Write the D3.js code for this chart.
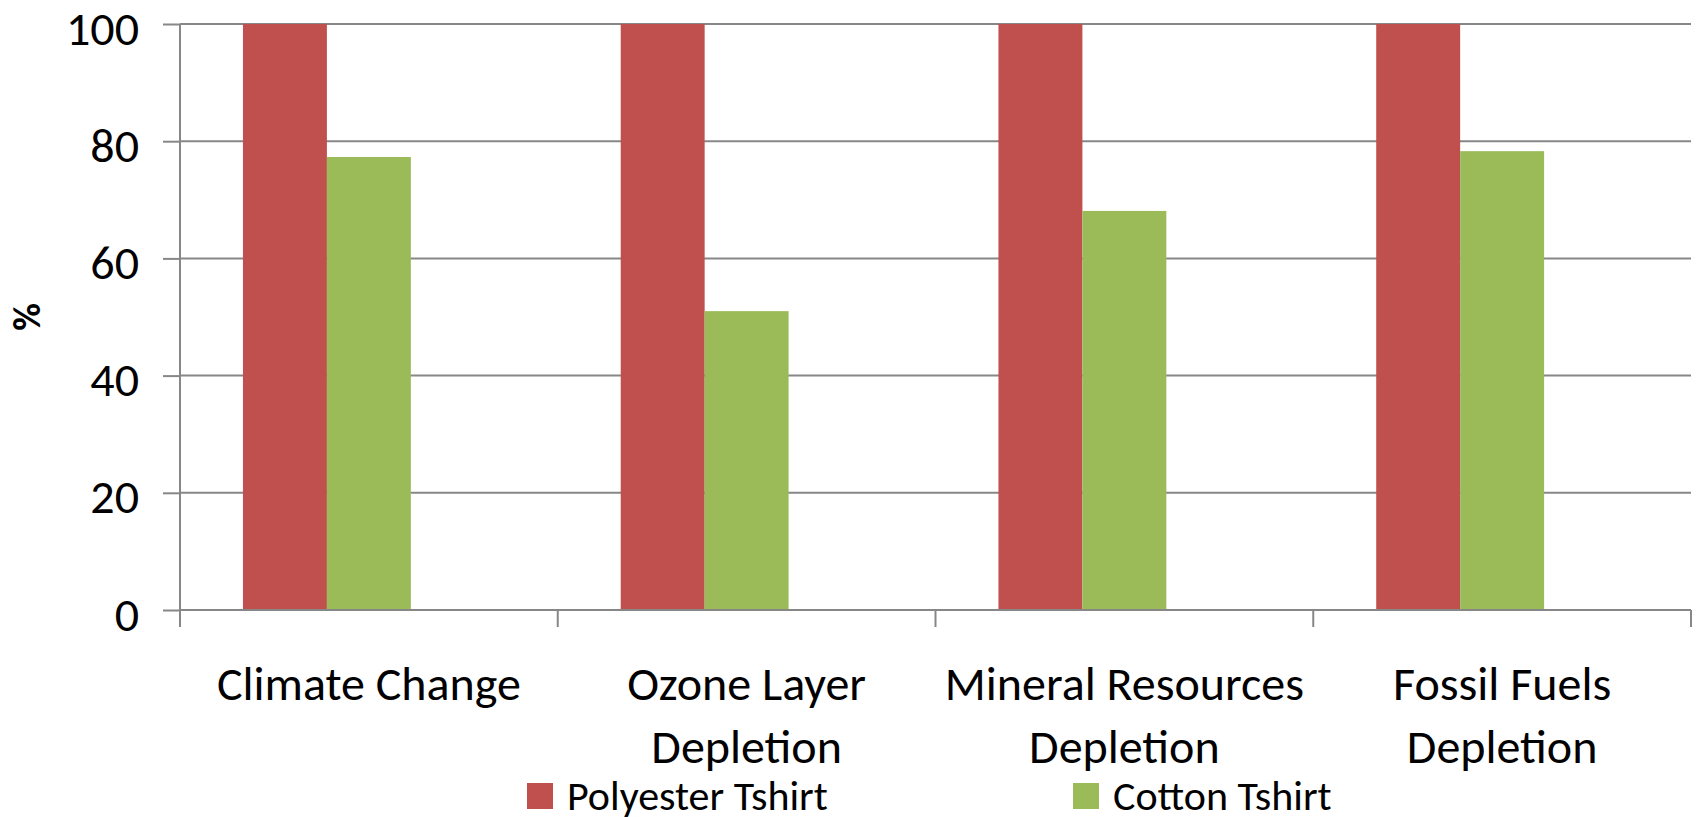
<!DOCTYPE html>
<html>
<head>
<meta charset="utf-8">
<script src="https://cdn.jsdelivr.net/npm/d3@7"></script>
<style>
  html, body { margin: 0; padding: 0; background: #fff; }
  svg { display: block; font-family: Carlito, Lato, "Open Sans", sans-serif; }
</style>
</head>
<body>
<div id="chart"></div>
<script>
// Impact categories (each label split into its lines)
const categories = ["Climate Change", "Ozone Layer Depletion", "Mineral Resources Depletion", "Fossil Fuels Depletion"];
const categoryLines = [
    ["Climate Change"],
    ["Ozone Layer", "Depletion"],
    ["Mineral Resources", "Depletion"],
    ["Fossil Fuels", "Depletion"]
];

// Series, relative to the polyester shirt (= 100 %)
const seriesNames = ["Polyester Tshirt", "Cotton Tshirt"];
const polyesterValues = [100, 100, 100, 100];
const cottonValues = [77.3, 51.0, 68.1, 78.3];
const seriesColors = ["#C0504D", "#9BBB59"];

const yTicks = [0, 20, 40, 60, 80, 100];

const width = 1698, height = 817;
const margin = { top: 24, right: 7, bottom: 207, left: 180 };

const svg = d3.select("#chart").append("svg")
    .attr("width", width)
    .attr("height", height);

const x0 = d3.scaleBand()
    .domain(categories)
    .range([margin.left, width - margin.right])
    .padding(0);

// the original Excel chart reserves a third (empty) slot per cluster
const x1 = d3.scaleBand()
    .domain(d3.range(seriesNames.length + 1))
    .range([0, x0.bandwidth()])
    .paddingInner(0)
    .paddingOuter(0.75);

const y = d3.scaleLinear()
    .domain([0, 100])
    .range([height - margin.bottom, margin.top]);

// Gridlines + y ticks
const yAxis = svg.append("g")
    .attr("transform", `translate(${margin.left},0)`)
    .call(d3.axisLeft(y).tickValues(yTicks).tickSize(17).tickPadding(0).tickFormat(d3.format("d")))
    .attr("font-family", null)
    .attr("font-size", null);
yAxis.select(".domain").remove();
yAxis.selectAll(".tick line").attr("stroke", "#878787").attr("stroke-width", 2);
yAxis.selectAll(".tick text")
    .attr("x", -41)
    .attr("dy", "0.42em")
    .attr("font-size", 48)
    .attr("fill", "#000");

svg.append("g")
    .selectAll("line")
    .data(yTicks.filter(d => d > 0))
    .join("line")
    .attr("x1", margin.left)
    .attr("x2", width - margin.right)
    .attr("y1", d => y(d))
    .attr("y2", d => y(d))
    .attr("stroke", "#878787")
    .attr("stroke-width", 2);

// Bars
const seriesValues = [polyesterValues, cottonValues];
const groups = svg.append("g")
    .selectAll("g")
    .data(categories)
    .join("g")
    .attr("transform", d => `translate(${x0(d)},0)`);

groups.selectAll("rect")
    .data((d, i) => seriesValues.map((vals, s) => ({ s, value: vals[i] })))
    .join("rect")
    .attr("x", d => x1(d.s))
    .attr("width", x1.bandwidth())
    .attr("y", d => y(d.value))
    .attr("height", d => y(0) - y(d.value))
    .attr("fill", d => seriesColors[d.s]);

// Axes lines
svg.append("line")
    .attr("x1", margin.left).attr("x2", margin.left)
    .attr("y1", margin.top).attr("y2", y(0) + 17)
    .attr("stroke", "#878787").attr("stroke-width", 2);

svg.append("line")
    .attr("x1", margin.left).attr("x2", width - margin.right)
    .attr("y1", y(0)).attr("y2", y(0))
    .attr("stroke", "#878787").attr("stroke-width", 2);

// category boundary ticks
const boundaries = categories.map(c => x0(c)).concat([x0.range()[1]]);
svg.append("g")
    .selectAll("line")
    .data(boundaries.slice(1))
    .join("line")
    .attr("x1", d => d).attr("x2", d => d)
    .attr("y1", y(0)).attr("y2", y(0) + 17)
    .attr("stroke", "#878787").attr("stroke-width", 2);

// Category labels
svg.append("g")
    .selectAll("text")
    .data(categories)
    .join("text")
    .attr("x", d => x0(d) + x0.bandwidth() / 2)
    .attr("y", 700)
    .attr("text-anchor", "middle")
    .attr("font-size", 48)
    .attr("fill", "#000")
    .each(function (d, i) {
        d3.select(this).selectAll("tspan")
            .data(categoryLines[i])
            .join("tspan")
            .attr("x", x0(d) + x0.bandwidth() / 2)
            .attr("dy", (t, j) => j === 0 ? 0 : 63)
            .text(t => t);
    });

// Y axis title
svg.append("text")
    .attr("transform", `translate(40, ${(margin.top + y(0)) / 2}) rotate(-90)`)
    .attr("text-anchor", "middle")
    .attr("font-size", 38)
    .attr("font-weight", "bold")
    .text("%");

// Legend
const legendX = [527, 1073];
const legend = svg.append("g")
    .selectAll("g")
    .data(seriesNames)
    .join("g")
    .attr("transform", (d, i) => `translate(${legendX[i]},783)`);

legend.append("rect")
    .attr("width", 26)
    .attr("height", 26)
    .attr("fill", (d, i) => seriesColors[i]);

legend.append("text")
    .attr("x", 40)
    .attr("y", 27)
    .attr("font-size", 42)
    .attr("fill", "#000")
    .text(d => d);
</script>
</body>
</html>
